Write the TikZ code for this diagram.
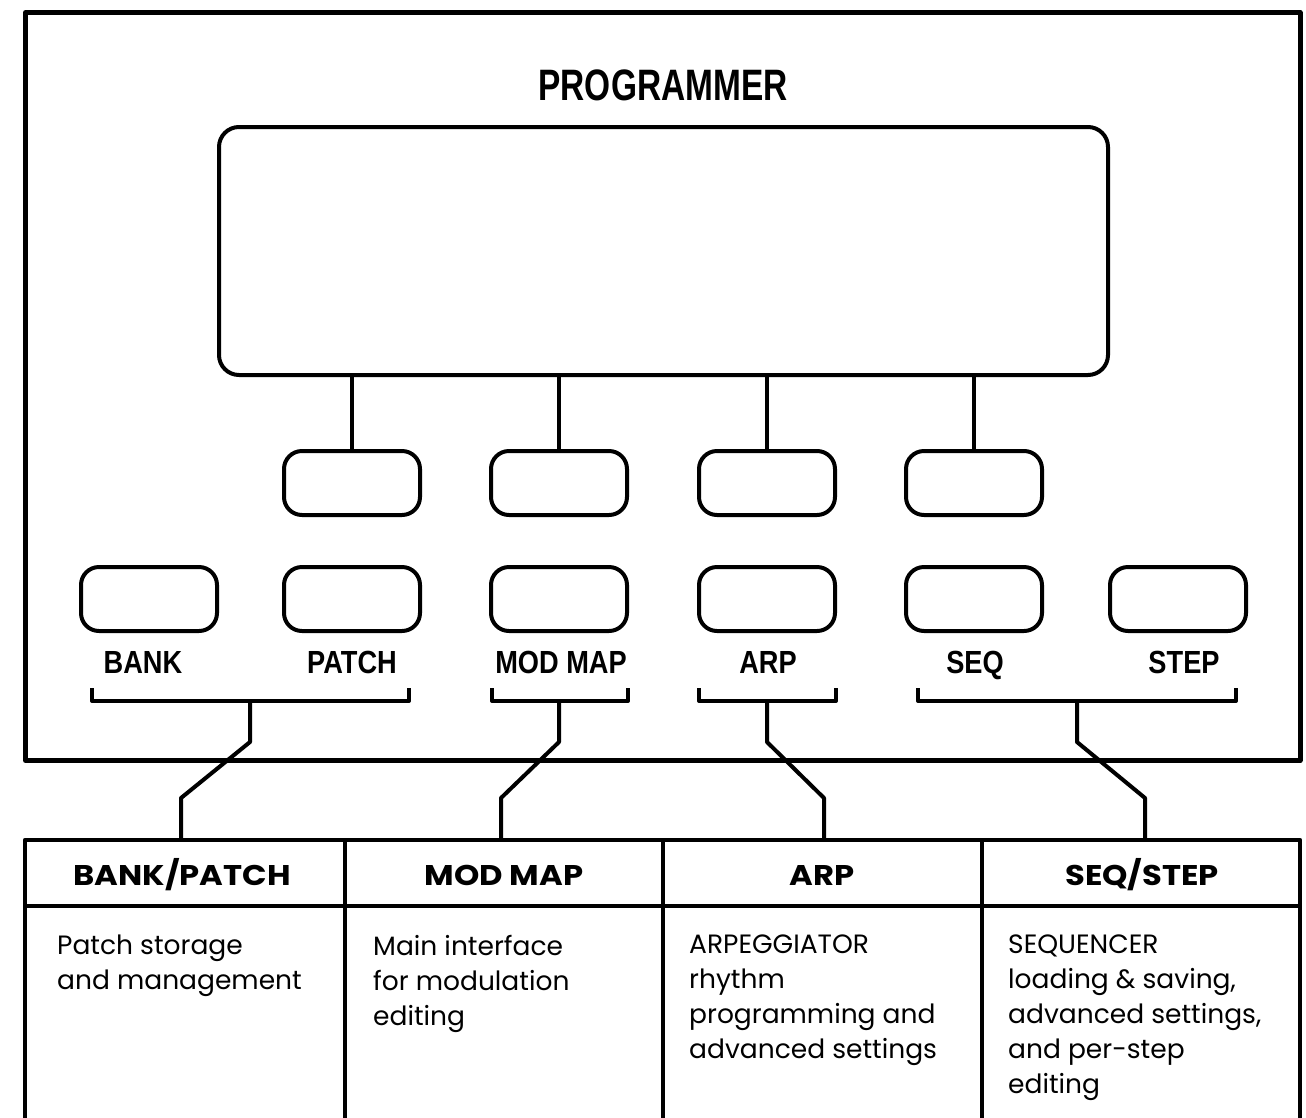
\documentclass[tikz,border=0pt]{standalone}
\usepackage{fontspec}
\setmainfont{Poppins}
\newfontfamily\condfont[FakeStretch=0.76]{Liberation Sans}
\newfontfamily\lblfont[FakeStretch=0.85]{Liberation Sans}
\newfontfamily\headfont[FakeStretch=1.13]{Poppins}
\newfontfamily\bodyfont[FakeStretch=1.0]{Poppins}
\usetikzlibrary{calc}
\begin{document}
\begin{tikzpicture}[x=1pt,y=-1pt,
  line join=round,
  btn/.style={draw,line width=4pt,rounded corners=18pt,minimum width=136pt,minimum height=64pt,inner sep=0pt},
  lbl/.style={font=\lblfont\bfseries\fontsize{32}{32}\selectfont,anchor=base,inner sep=0pt},
  wire/.style={line width=4pt},
  tline/.style={line width=4.5pt},
  head/.style={font=\headfont\bfseries\fontsize{28.5}{28.5}\selectfont,anchor=base,inner sep=0pt},
  body/.style={font=\bodyfont\fontsize{26.5}{35}\selectfont,anchor=north west,align=left,inner sep=0pt}]
\useasboundingbox (0,0) rectangle (1306,1117);
\begin{scope}
\clip (0,0) rectangle (1306,1117);
% outer panel
\draw[line width=5pt] (25.5,12.5) rectangle (1300,760.5);
\node[lbl,font=\condfont\bfseries\fontsize{44}{44}\selectfont] (title) at (663,100) {PROGRAMMER};
% display
\node[draw,line width=4pt,rounded corners=20pt,minimum width=889pt,minimum height=248pt,inner sep=0pt] (disp) at (663.5,251) {};
% upper buttons
\node[btn] (u1) at (352,483) {};
\node[btn] (u2) at (559,483) {};
\node[btn] (u3) at (767,483) {};
\node[btn] (u4) at (974,483) {};
\foreach \i in {1,...,4} \draw[wire] (disp.south -| u\i) -- (u\i.north);
% lower buttons
\node[btn] (bank) at (149,599) {};
\node[btn] (patch) at (352,599) {};
\node[btn] (modmap) at (559,599) {};
\node[btn] (arp) at (767,599) {};
\node[btn] (seq) at (974,599) {};
\node[btn] (step) at (1178,599) {};
\node[lbl] (lbank) at (143,673) {BANK};
\node[lbl] (lpatch) at (352,673) {PATCH};
\node[lbl] (lmod) at (561,673) {MOD MAP};
\node[lbl] (larp) at (768,673) {ARP};
\node[lbl] (lseq) at (975,673) {SEQ};
\node[lbl] (lstep) at (1184,673) {STEP};
% brackets
\draw[wire] (92,688) -- (92,701) -- (409,701) -- (409,688);
\draw[wire] (492,688) -- (492,701) -- (628,701) -- (628,688);
\draw[wire] (699,688) -- (699,701) -- (836,701) -- (836,688);
\draw[wire] (918,688) -- (918,701) -- (1236,701) -- (1236,688);
\coordinate (b1) at (250,701);
\coordinate (b2) at (559,701);
\coordinate (b3) at (767,701);
\coordinate (b4) at (1077,701);
% table
\coordinate (t1) at (181,840);
\coordinate (t2) at (501,840);
\coordinate (t3) at (824,840);
\coordinate (t4) at (1145,840);
\draw[tline] (25,1140) -- (25,840) -- (1300,840) -- (1300,1140);
\draw[tline] (25,906) -- (1300,906);
\draw[tline] (345,840) -- (345,1140);
\draw[tline] (663,840) -- (663,1140);
\draw[tline] (982,840) -- (982,1140);
% connectors
\draw[wire] (b1) -- (250,742) -- (181,798) -- (t1);
\draw[wire] (b2) -- (559,742) -- (501,798) -- (t2);
\draw[wire] (b3) -- (767,742) -- (824,798) -- (t3);
\draw[wire] (b4) -- (1077,742) -- (1145,798) -- (t4);
% headers
\node[head] (h1) at (182,885) {BANK/PATCH};
\node[head] (h2) at (504,885) {MOD MAP};
\node[head] (h3) at (822,885) {ARP};
\node[head] (h4) at (1142,885) {SEQ/STEP};
% body
\node[body] (d1) at (57,935) {Patch storage\\and management};
\node[body] (d2) at (373,935) {Main interface\\for modulation\\editing};
\node[body] (d3) at (689,935) {ARPEGGIATOR\\rhythm\\programming and\\advanced settings};
\node[body] (d4) at (1008,935) {SEQUENCER\\loading \& saving,\\advanced settings,\\and per-step\\editing};
\end{scope}
\end{tikzpicture}
\end{document}
